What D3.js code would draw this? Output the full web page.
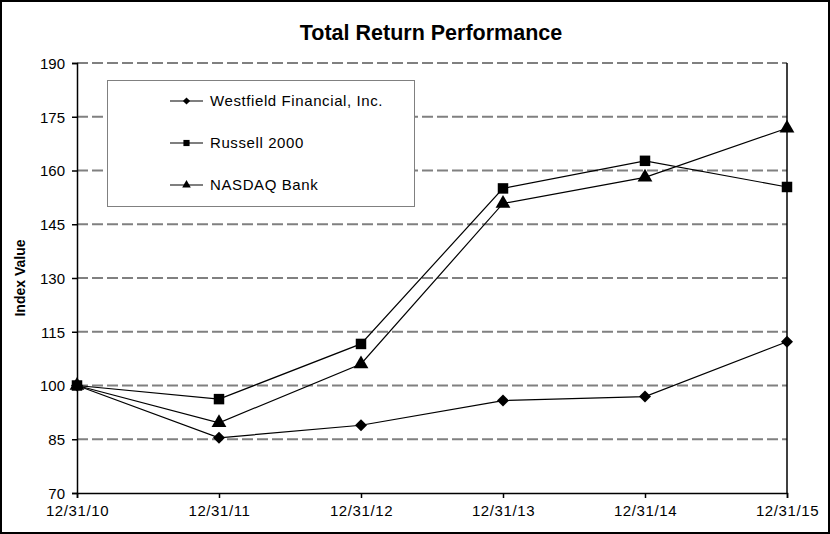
<!DOCTYPE html>
<html><head><meta charset="utf-8">
<script src="https://cdn.jsdelivr.net/npm/d3@7"></script>
<style>body{margin:0;background:#fff}svg{display:block}text{font-family:"Liberation Sans",Arial,sans-serif}</style>
</head><body><svg id="c" width="830" height="534"></svg>
<script>
const categories = ["12/31/10","12/31/11","12/31/12","12/31/13","12/31/14","12/31/15"];
const westfield = [100, 85.4, 88.9, 95.8, 96.9, 112.2];
const russell = [100, 96.2, 111.6, 155.0, 162.7, 155.4];
const nasdaq = [100, 89.6, 106.0, 150.8, 158.1, 171.8];
const yTicks = [70, 85, 100, 115, 130, 145, 160, 175, 190];
const seriesNames = ["Westfield Financial, Inc.", "Russell 2000", "NASDAQ Bank"];

const svg = d3.select("#c");
const W = 830, H = 534;
svg.append("rect").attr("x",1).attr("y",1).attr("width",W-2).attr("height",H-2).attr("fill","#fff").attr("stroke","#000").attr("stroke-width",2);

const x = d3.scalePoint().domain(categories).range([77, 787]);
const y = d3.scaleLinear().domain([70, 190]).range([493, 63]);

// gridlines
svg.append("g").selectAll("line").data(yTicks.filter(d => d > 70)).join("line")
  .attr("x1", 77).attr("x2", 787).attr("y1", d => y(d)).attr("y2", d => y(d))
  .attr("stroke", "#808080").attr("stroke-width", 2).attr("stroke-dasharray", "11,4");

// axes
const yAxis = svg.append("g").attr("transform","translate(77,0)")
  .call(d3.axisLeft(y).tickValues(yTicks).tickSize(5).tickPadding(7));
const xAxis = svg.append("g").attr("transform","translate(0,493)")
  .call(d3.axisBottom(x).tickSize(5).tickPadding(7));
[yAxis, xAxis].forEach(g => {
  g.select(".domain").attr("stroke","#000").attr("stroke-width",1.5);
  g.selectAll(".tick line").attr("stroke","#000").attr("stroke-width",1.5);
  g.selectAll("text").attr("fill","#000").style("font-size","15px").style("font-family",'"Liberation Sans",Arial,sans-serif');
});
yAxis.selectAll(".tick text").attr("dy","0.35em");
xAxis.selectAll(".tick text").style("letter-spacing","0.6px");
// right border
svg.append("line").attr("x1",787).attr("x2",787).attr("y1",y(190)).attr("y2",y(70)).attr("stroke","#000").attr("stroke-width",1.5);

// title & y label
svg.append("text").attr("x",431).attr("y",40).attr("text-anchor","middle").attr("font-weight","bold").attr("font-size",21.5).text("Total Return Performance");
svg.append("text").attr("transform","translate(25,278) rotate(-90)").attr("text-anchor","middle").attr("font-weight","bold").attr("font-size",14).text("Index Value");

const diamond = {draw(ctx, size){ const r = Math.sqrt(size/2); ctx.moveTo(0,-r); ctx.lineTo(r,0); ctx.lineTo(0,r); ctx.lineTo(-r,0); ctx.closePath(); }};
const line = d3.line().x((d,i) => x(categories[i])).y(d => y(d));
const series = [
  {vals: westfield, sym: diamond, size: 72, lsize: 26},
  {vals: russell, sym: d3.symbolSquare, size: 110, lsize: 38},
  {vals: nasdaq, sym: d3.symbolTriangle, size: 95, lsize: 32}
];
series.forEach(s => {
  svg.append("path").datum(s.vals).attr("d", line).attr("fill","none").attr("stroke","#000").attr("stroke-width",1.2);
});
series.forEach(s => {
  svg.append("g").selectAll("path").data(s.vals).join("path")
    .attr("transform",(d,i) => `translate(${x(categories[i])},${y(d)})`)
    .attr("d", d3.symbol().type(s.sym).size(s.size)).attr("fill","#000");
});

// legend
const lg = svg.append("g");
lg.append("rect").attr("x",107.5).attr("y",80.5).attr("width",307).attr("height",126).attr("fill","#fff").attr("stroke","#808080").attr("stroke-width",1);
const rows = [101, 143, 185];
series.forEach((s, i) => {
  lg.append("line").attr("x1",170).attr("x2",203).attr("y1",rows[i]).attr("y2",rows[i]).attr("stroke","#000").attr("stroke-width",1.2);
  lg.append("path").attr("transform",`translate(186.5,${rows[i]})`).attr("d", d3.symbol().type(s.sym).size(s.lsize)).attr("fill","#000");
  lg.append("text").attr("x",210).attr("y",rows[i]).attr("dy","0.35em").attr("font-size",15).style("letter-spacing","0.6px").text(seriesNames[i]);
});
</script></body></html>
